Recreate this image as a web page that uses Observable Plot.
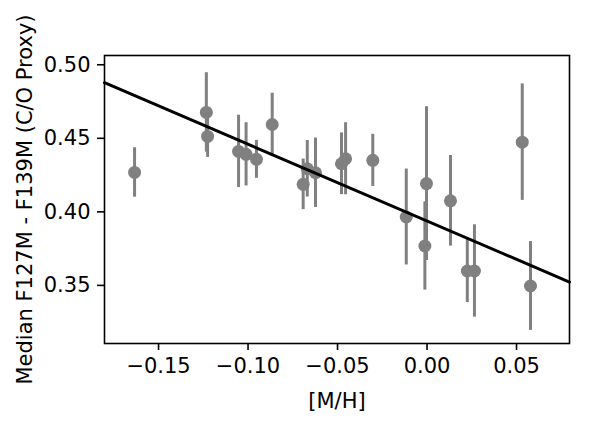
<!DOCTYPE html>
<html>
<head>
<meta charset="utf-8">
<script src="https://cdn.jsdelivr.net/npm/d3@7"></script>
<script src="https://cdn.jsdelivr.net/npm/@observablehq/plot@0.6"></script>
<style>
  html, body { margin: 0; padding: 0; background: white; }
</style>
</head>
<body>
<div id="chart"></div>
<script>
// Metallicity [M/H]
const mh = [-0.1634, -0.1233, -0.1226, -0.1053, -0.1011, -0.0953, -0.0865, -0.0692, -0.0669, -0.0623,
            -0.0478, -0.0455, -0.0303, -0.0116, -0.0003, -0.0012, 0.0131, 0.0225, 0.0265, 0.0532, 0.0578];
// Median F127M - F139M colour (C/O proxy)
const color = [0.4268, 0.4676, 0.4513, 0.4411, 0.4391, 0.4357, 0.4594, 0.4187, 0.4293, 0.4266,
               0.4327, 0.4361, 0.4350, 0.3965, 0.4192, 0.3768, 0.4075, 0.3598, 0.3598, 0.4474, 0.3496];
// Error (half-length) on colour
const err = [0.0168, 0.0270, 0.0143, 0.0246, 0.0215, 0.0129, 0.0213, 0.0172, 0.0192, 0.0236,
             0.0210, 0.0245, 0.0177, 0.0326, 0.0523, 0.0300, 0.0308, 0.0215, 0.0314, 0.0396, 0.0302];

// Linear fit line endpoints
const fitX = [-0.1802, 0.0796];
const fitY = [0.4878, 0.3523];

const xTicks = [-0.15, -0.10, -0.05, 0.00, 0.05];
const yTicks = [0.35, 0.40, 0.45, 0.50];

const data = mh.map((x, i) => ({x, y: color[i], lo: color[i] - err[i], hi: color[i] + err[i]}));
const fit = fitX.map((x, i) => ({x, y: fitY[i]}));

const fmt = d3.format(".2f");

const chart = Plot.plot({
  width: 592,
  height: 422,
  marginLeft: 104,
  marginRight: 23,
  marginTop: 55,
  marginBottom: 79,
  style: {fontFamily: "DejaVu Sans", fontSize: "21px", background: "white", color: "black"},
  x: {domain: [-0.1802, 0.0796]},
  y: {domain: [0.3105, 0.5063]},
  marks: [
    Plot.ruleX(data, {x: "x", y1: "lo", y2: "hi", stroke: "#808080", strokeWidth: 3}),
    Plot.dot(data, {x: "x", y: "y", r: 6.5, fill: "#808080", stroke: "none"}),
    Plot.line(fit, {x: "x", y: "y", stroke: "black", strokeWidth: 3}),
    Plot.frame({stroke: "black", strokeWidth: 1.6}),
    Plot.axisX({ticks: xTicks, tickFormat: fmt, tickSize: 7, tickPadding: 8, strokeWidth: 1.6,
                fontSize: 21, label: "[M/H]", labelAnchor: "center", labelArrow: "none", labelOffset: 64}),
    Plot.axisY({ticks: yTicks, tickFormat: fmt, tickSize: 7, tickPadding: 7, strokeWidth: 1.6,
                fontSize: 21, label: "Median F127M - F139M (C/O Proxy)", labelAnchor: "center", labelArrow: "none", labelOffset: 87})
  ]
});
document.getElementById("chart").appendChild(chart);
</script>
</body>
</html>
